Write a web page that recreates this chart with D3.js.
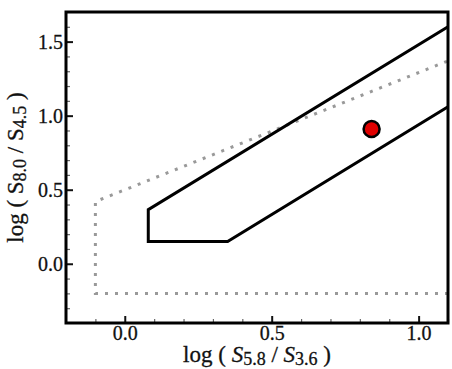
<!DOCTYPE html>
<html>
<head>
<meta charset="utf-8">
<script src="https://cdn.jsdelivr.net/npm/d3@7"></script>
<style>
  body { margin: 0; background: #fff; }
  text { font-family: "Liberation Serif", "Times New Roman", serif; fill: #111; stroke: #111; stroke-width: 0.3; }
</style>
</head>
<body>
<script>
// dotted wedge (Lacy-type) vertices
var lacyX = [1.1, -0.1, -0.1, 1.1];
var lacyY = [-0.2, -0.2, 0.42, 1.37];

// solid wedge (Donley-type) vertices
var donleyX = [1.1, 0.08, 0.08, 0.35, 1.1];
var donleyY = [1.6, 0.365, 0.15, 0.15, 1.06];

// the source
var srcX = [0.84];
var srcY = [0.91];

var xTickValues = [0.0, 0.5, 1.0];
var xTickLabels = ["0.0", "0.5", "1.0"];
var yTickValues = [0.0, 0.5, 1.0, 1.5];
var yTickLabels = ["0.0", "0.5", "1.0", "1.5"];

var W = 452, H = 369;
var margin = {top: 12, right: 4, bottom: 46, left: 66};
var width = W - margin.left - margin.right;
var height = H - margin.top - margin.bottom;

var xScale = d3.scaleLinear().domain([-0.2, 1.1]).range([0, width]);
var yScale = d3.scaleLinear().domain([-0.4, 1.7]).range([height, 0]);

var svg = d3.select("body")
  .append("svg")
  .attr("width", W)
  .attr("height", H);

var g = svg.append("g")
  .attr("transform", "translate(" + margin.left + "," + margin.top + ")");

g.append("clipPath").attr("id", "clip")
  .append("rect").attr("width", width).attr("height", height);

// minor ticks every 0.1
var xMinor = d3.range(-0.1, 1.1, 0.1).map(function(d) { return +d.toFixed(1); })
  .filter(function(d) { return xTickValues.indexOf(d) < 0; });
var yMinor = d3.range(-0.3, 1.7, 0.1).map(function(d) { return +d.toFixed(1); })
  .filter(function(d) { return yTickValues.indexOf(d) < 0; });

var xAxisMinor = d3.axisBottom(xScale).tickValues(xMinor).tickSize(-4).tickFormat("");
var yAxisMinor = d3.axisLeft(yScale).tickValues(yMinor).tickSize(-4).tickFormat("");

var xAxis = d3.axisBottom(xScale)
  .tickValues(xTickValues)
  .tickSize(-7)
  .tickPadding(3)
  .tickFormat(function(d, i) { return xTickLabels[i]; });

var yAxis = d3.axisLeft(yScale)
  .tickValues(yTickValues)
  .tickSize(-7)
  .tickPadding(3)
  .tickFormat(function(d, i) { return yTickLabels[i]; });

g.append("g").attr("transform", "translate(0," + height + ")").call(xAxisMinor)
  .call(function(a) { a.select(".domain").remove(); a.selectAll("line").attr("stroke", "#666").attr("stroke-width", 1.2); });
g.append("g").call(yAxisMinor)
  .call(function(a) { a.select(".domain").remove(); a.selectAll("line").attr("stroke", "#666").attr("stroke-width", 1.2); });

g.append("g").attr("class", "x axis").attr("transform", "translate(0," + height + ")").call(xAxis)
  .call(function(a) {
    a.select(".domain").remove();
    a.selectAll("line").attr("stroke", "#111").attr("stroke-width", 2);
    a.selectAll("text").attr("font-size", 20).attr("fill", "#111");
  });
g.append("g").attr("class", "y axis").call(yAxis)
  .call(function(a) {
    a.select(".domain").remove();
    a.selectAll("line").attr("stroke", "#111").attr("stroke-width", 2);
    a.selectAll("text").attr("font-size", 20).attr("fill", "#111");
  });

var line = d3.line()
  .x(function(d) { return xScale(d[0]); })
  .y(function(d) { return yScale(d[1]); });

var plot = g.append("g").attr("clip-path", "url(#clip)");

plot.append("path")
  .datum(d3.zip(lacyX, lacyY))
  .attr("d", line)
  .attr("fill", "none")
  .attr("stroke", "#999")
  .attr("stroke-width", 3)
  .attr("stroke-dasharray", "3 7");

plot.append("path")
  .datum(d3.zip(donleyX, donleyY))
  .attr("d", line)
  .attr("fill", "none")
  .attr("stroke", "#000")
  .attr("stroke-width", 3)
  .attr("stroke-linejoin", "miter");

plot.selectAll(".src")
  .data(d3.zip(srcX, srcY))
  .enter().append("circle")
  .attr("class", "src")
  .attr("cx", function(d) { return xScale(d[0]); })
  .attr("cy", function(d) { return yScale(d[1]); })
  .attr("r", 8)
  .attr("fill", "#e00000")
  .attr("stroke", "#000")
  .attr("stroke-width", 2.5);

// frame
g.append("rect")
  .attr("width", width)
  .attr("height", height)
  .attr("fill", "none")
  .attr("stroke", "#000")
  .attr("stroke-width", 3);

// axis labels
var xl = svg.append("text")
  .attr("x", margin.left + width / 2)
  .attr("y", 362)
  .attr("text-anchor", "middle")
  .attr("font-size", 23);
xl.append("tspan").text("log ( ");
xl.append("tspan").attr("font-style", "italic").text("S");
xl.append("tspan").attr("font-size", 18).attr("dy", 3).text("5.8");
xl.append("tspan").attr("dy", -3).text(" / ");
xl.append("tspan").attr("font-style", "italic").text("S");
xl.append("tspan").attr("font-size", 18).attr("dy", 3).text("3.6");
xl.append("tspan").attr("dy", -3).text(" )");

var yl = svg.append("text")
  .attr("transform", "translate(23," + (margin.top + height / 2) + ") rotate(-90)")
  .attr("text-anchor", "middle")
  .attr("font-size", 23);
yl.append("tspan").text("log ( S");
yl.append("tspan").attr("font-size", 18).attr("dy", 3).text("8.0");
yl.append("tspan").attr("dy", -3).text(" / S");
yl.append("tspan").attr("font-size", 18).attr("dy", 3).text("4.5");
yl.append("tspan").attr("dy", -3).text(" )");
</script>
</body>
</html>
